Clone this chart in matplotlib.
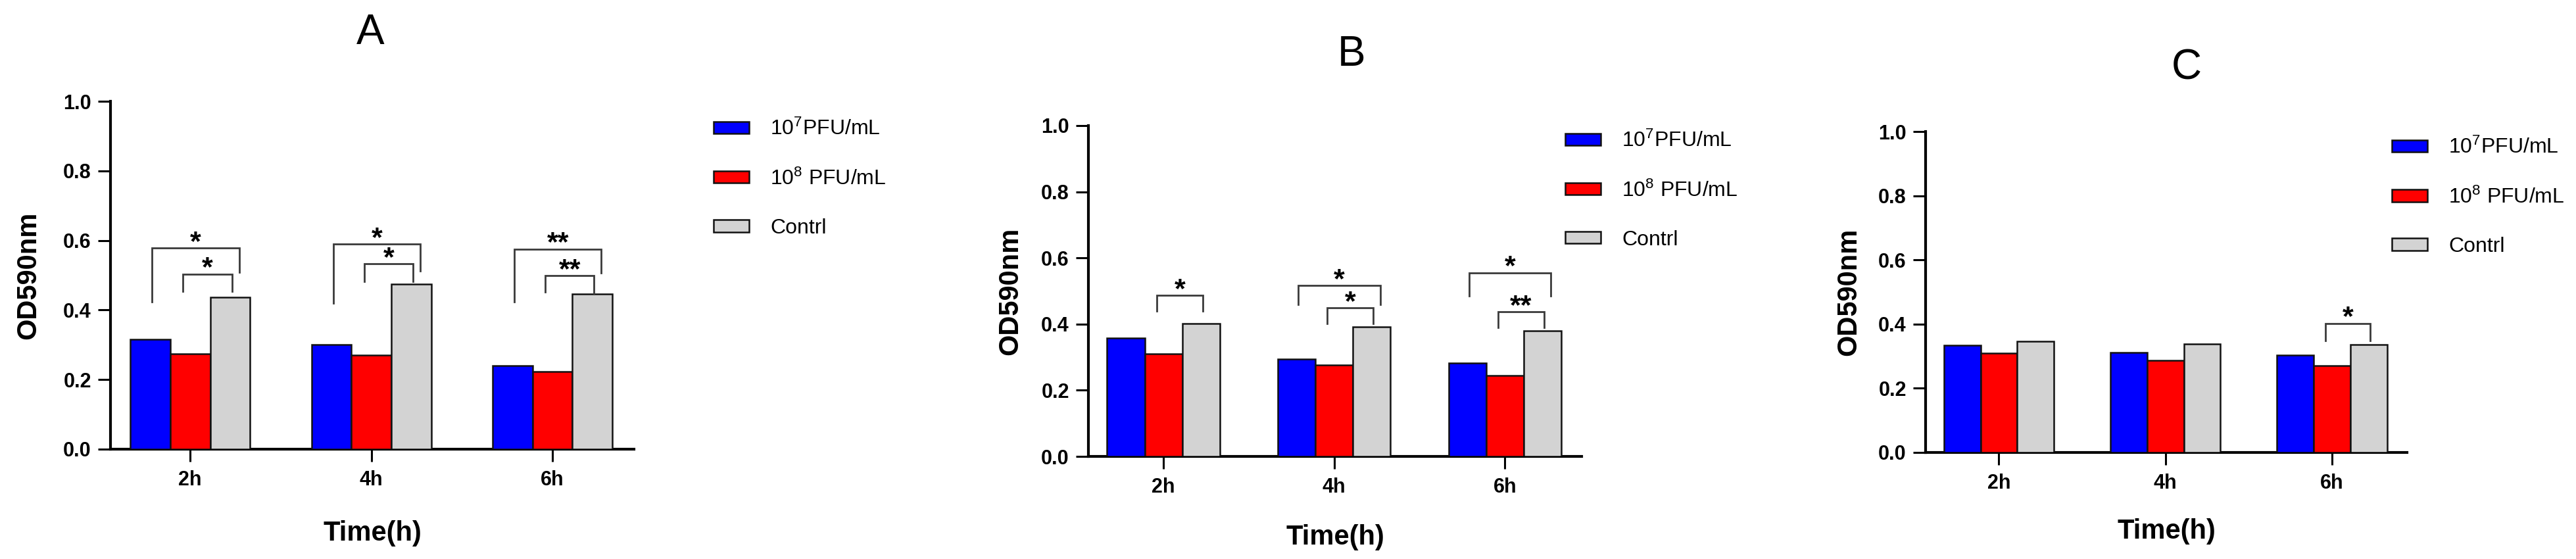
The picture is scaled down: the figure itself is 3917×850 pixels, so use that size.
import numpy as np
import matplotlib
matplotlib.use("Agg")
import matplotlib.pyplot as plt

plt.rcParams['font.family'] = ['Liberation Sans', 'DejaVu Sans']
plt.rcParams['mathtext.fontset'] = 'custom'
plt.rcParams['mathtext.rm'] = 'Liberation Sans'
plt.rcParams['mathtext.default'] = 'regular'

# -----------------------------
# data (OD590nm)
# -----------------------------
groups = ['2h', '4h', '6h']
series_labels = ['10$^7$PFU/mL', '10$^8$ PFU/mL', 'Contrl']
colors = ['#0000FF', '#FF0000', '#D3D3D3']

a_pfu7 = [0.315, 0.300, 0.240]
a_pfu8 = [0.275, 0.271, 0.223]
a_ctrl = [0.436, 0.474, 0.446]

b_pfu7 = [0.358, 0.294, 0.282]
b_pfu8 = [0.310, 0.276, 0.245]
b_ctrl = [0.401, 0.392, 0.380]

c_pfu7 = [0.333, 0.311, 0.304]
c_pfu8 = [0.309, 0.287, 0.270]
c_ctrl = [0.347, 0.339, 0.336]

# significance brackets: (group, left bar, right bar, top, left leg end, right leg end, label)
a_brackets = [
    (0, 0, 2, 0.578, 0.423, 0.508, '*'),
    (0, 1, 2, 0.503, 0.454, 0.454, '*'),
    (1, 0, 2, 0.589, 0.420, 0.513, '*'),
    (1, 1, 2, 0.533, 0.482, 0.482, '*'),
    (2, 0, 2, 0.575, 0.423, 0.507, '**'),
    (2, 1, 2, 0.499, 0.452, 0.446, '**'),
]
b_brackets = [
    (0, 1, 2, 0.487, 0.439, 0.439, '*'),
    (1, 0, 2, 0.517, 0.459, 0.459, '*'),
    (1, 1, 2, 0.449, 0.402, 0.402, '*'),
    (2, 0, 2, 0.555, 0.485, 0.485, '*'),
    (2, 1, 2, 0.437, 0.390, 0.390, '**'),
]
c_brackets = [
    (2, 1, 2, 0.402, 0.348, 0.348, '*'),
]


def draw_panel(ax, vals, brackets, title, title_xy, leg_xy):
    x = np.arange(len(groups))
    w = 0.22
    offs = [-w, 0.0, w]
    for i, (v, c, lab) in enumerate(zip(vals, colors, series_labels)):
        ax.bar(x + offs[i], v, w, color=c, edgecolor='#111111',
               linewidth=1.8, label=lab, zorder=3)

    for g, i, j, top, lb, rb, star in brackets:
        x1 = g + offs[i] + (0.01 if i == 0 else -0.04)
        x2 = g + offs[j] + (0.05 if i == 0 else 0.01)
        ax.plot([x1, x1, x2, x2], [lb, top, top, rb], color='#3a3a3a',
                lw=2, solid_joinstyle='miter', zorder=4)
        ax.annotate(star, ((x1 + x2) / 2, top), xytext=(0, 6),
                    textcoords='offset points', ha='center', va='center',
                    fontsize=31, fontweight='bold')

    ax.set_xlim(-0.44, 2.45)
    ax.set_ylim(0, 1.0)
    ax.set_yticks(np.arange(0, 1.01, 0.2))
    ax.set_yticklabels([f'{t:.1f}' for t in np.arange(0, 1.01, 0.2)],
                       fontweight='bold')
    ax.set_xticks(x)
    ax.set_xticklabels(groups, fontweight='bold')
    ax.tick_params(axis='both', width=2.2, length=14, labelsize=22)
    ax.tick_params(axis='x', pad=9)
    ax.tick_params(axis='y', pad=7)
    for s in ['top', 'right']:
        ax.spines[s].set_visible(False)
    for s in ['left', 'bottom']:
        ax.spines[s].set_linewidth(3)

    ax.set_ylabel('OD590nm', fontsize=30, fontweight='bold')
    ax.yaxis.set_label_coords(-0.132, 0.5)
    ax.set_xlabel('Time(h)', fontsize=30, fontweight='bold')
    ax.xaxis.set_label_coords(0.5, -0.205)

    ax.text(title_xy[0], title_xy[1], title, transform=ax.transAxes,
            ha='center', va='center', fontsize=46,
            family=['Liberation Sans Narrow', 'Liberation Sans', 'DejaVu Sans'])

    ax.legend(loc='upper left', bbox_to_anchor=leg_xy,
              bbox_transform=ax.figure.transFigure, frameon=False,
              fontsize=23, handlelength=1.7, handleheight=0.5,
              handletextpad=1.0, labelspacing=1.38, borderpad=0,
              borderaxespad=0)


fig = plt.figure(figsize=(39.17, 8.5), dpi=100)
fig.patch.set_facecolor('white')

ax_a = fig.add_axes([0.0429, 0.1965, 0.2032, 0.6223])
ax_b = fig.add_axes([0.4225, 0.1835, 0.1915, 0.5918])
ax_c = fig.add_axes([0.7475, 0.1906, 0.1869, 0.5741])

draw_panel(ax_a, [a_pfu7, a_pfu8, a_ctrl], a_brackets, 'A', (0.496, 1.197), (0.277, 0.787))
draw_panel(ax_b, [b_pfu7, b_pfu8, b_ctrl], b_brackets, 'B', (0.533, 1.215), (0.6076, 0.766))
draw_panel(ax_c, [c_pfu7, c_pfu8, c_ctrl], c_brackets, 'C', (0.542, 1.197), (0.9285, 0.754))

fig.savefig('out.png', dpi=100, facecolor='white')
